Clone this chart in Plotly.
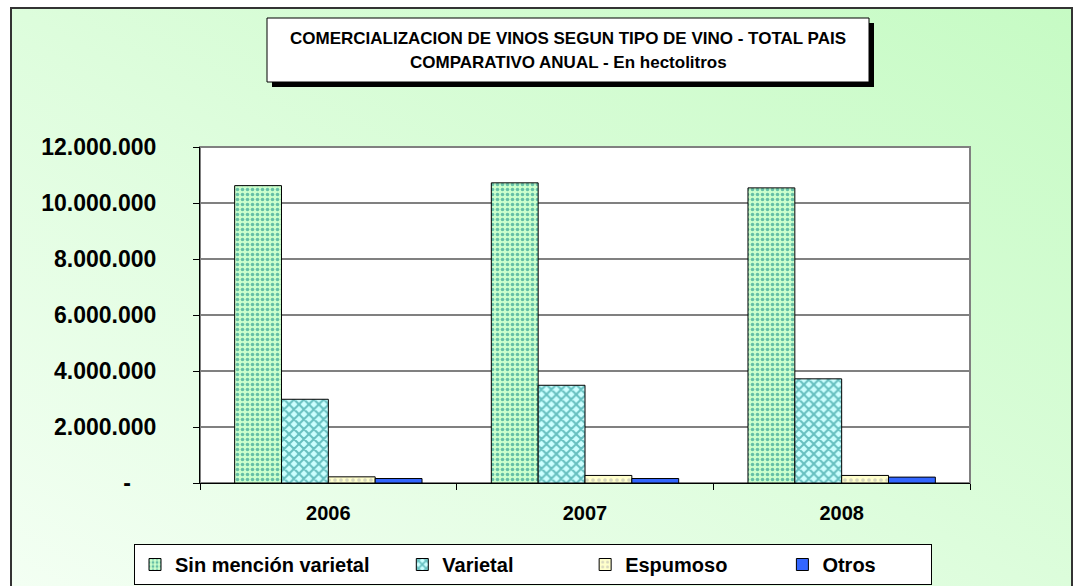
import base64
import plotly.graph_objects as go

# hectolitros por tipo de vino, total pais
years = ["2006", "2007", "2008"]
sin_mencion = [10_620_000, 10_720_000, 10_540_000]
varietal = [2_990_000, 3_490_000, 3_720_000]
espumoso = [220_000, 270_000, 270_000]
otros = [160_000, 160_000, 210_000]

y_ticks = [0, 2_000_000, 4_000_000, 6_000_000, 8_000_000, 10_000_000, 12_000_000]
y_labels = ["-\u00a0\u00a0\u00a0\u00a0", "2.000.000", "4.000.000", "6.000.000",
            "8.000.000", "10.000.000", "12.000.000"]

W, H = 1074, 586
L, R, T, B = 200, 104, 147, 103
PW, PH = W - L - R, H - T - B


def px(x):
    return (x - L) / PW


def py(y):
    return (H - B - y) / PH


FONT = "Arial, Liberation Sans, sans-serif"
NB = "\u00a0"

# green gradient background with the outer frame (excel chart area)
svg = f"""<svg xmlns='http://www.w3.org/2000/svg' width='{W}' height='{H}' viewBox='0 0 {W} {H}' preserveAspectRatio='none'>
<defs><linearGradient id='g' x1='1' y1='0' x2='0' y2='1'>
<stop offset='0' stop-color='#c6fbc4'/><stop offset='1' stop-color='#f4fff4'/></linearGradient></defs>
<rect x='0' y='0' width='{W}' height='{H}' fill='white'/>
<rect x='11' y='8' width='1061' height='600' fill='url(#g)' stroke='#333333' stroke-width='2'/>
</svg>"""
bg_src = "data:image/svg+xml;base64," + base64.b64encode(svg.encode()).decode()

fig = go.Figure()
fig.add_trace(go.Bar(x=years, y=sin_mencion, name="Sin mención varietal" + NB * 5,
                     marker=dict(color="#ccffcc", line=dict(color="black", width=1),
                                 pattern=dict(shape=".", fgcolor="#008080", bgcolor="#ccffcc",
                                              size=5, solidity=0.4))))
fig.add_trace(go.Bar(x=years, y=varietal, name="Varietal" + NB * 12,
                     marker=dict(color="#ccffff", line=dict(color="black", width=1),
                                 pattern=dict(shape="x", fgcolor="#008080", bgcolor="#ccffff",
                                              size=7, solidity=0.5))))
fig.add_trace(go.Bar(x=years, y=espumoso, name="Espumoso" + NB * 9,
                     marker=dict(color="#ffffcc", line=dict(color="black", width=1),
                                 pattern=dict(shape=".", fgcolor="#b0b0b0", bgcolor="#ffffcc",
                                              size=6, solidity=0.3))))
fig.add_trace(go.Bar(x=years, y=otros, name="Otros" + NB * 9,
                     marker=dict(color="#3366ff", line=dict(color="black", width=1))))

fig.update_layout(
    width=W, height=H,
    margin=dict(l=L, r=R, t=T, b=B, autoexpand=False),
    paper_bgcolor="white",
    plot_bgcolor="white",
    barmode="group",
    bargap=0.27,
    bargroupgap=0,
    font=dict(family=FONT, color="black"),
    showlegend=True,
    legend=dict(orientation="h", x=px(134), xanchor="left", y=py(544), yanchor="top",
                bgcolor="white", bordercolor="black", borderwidth=1,
                font=dict(size=20, weight="bold"), traceorder="normal"),
    images=[dict(source=bg_src, xref="paper", yref="paper", x=px(0), y=py(0),
                 sizex=W / PW, sizey=H / PH, xanchor="left", yanchor="top",
                 sizing="stretch", layer="below")],
    shapes=[
        # plot area
        dict(type="rect", xref="paper", yref="paper", x0=0, x1=1, y0=0, y1=1,
             fillcolor="white", line=dict(color="#808080", width=2), layer="below"),
        # title box shadow and box
        dict(type="rect", xref="paper", yref="paper", x0=px(272), x1=px(874), y0=py(87), y1=py(23),
             fillcolor="black", line=dict(width=0), layer="below"),
        dict(type="rect", xref="paper", yref="paper", x0=px(267), x1=px(869), y0=py(82), y1=py(18),
             fillcolor="white", line=dict(color="black", width=1), layer="below"),
    ],
    annotations=[
        dict(text="COMERCIALIZACION DE VINOS SEGUN TIPO DE VINO - TOTAL PAIS",
             xref="paper", yref="paper", x=px(568), y=py(38), yanchor="middle", showarrow=False,
             font=dict(size=17, weight="bold")),
        dict(text="COMPARATIVO ANUAL - En hectolitros",
             xref="paper", yref="paper", x=px(568), y=py(62), yanchor="middle", showarrow=False,
             font=dict(size=17, weight="bold")),
    ],
)

fig.update_xaxes(showline=True, linecolor="black", linewidth=1,
                 ticks="outside", tickson="boundaries", ticklen=6, tickcolor="black",
                 ticklabelstandoff=12,
                 tickfont=dict(size=20, weight="bold"), showgrid=False)
fig.update_yaxes(range=[0, 12_000_000], tickvals=y_ticks, ticktext=y_labels,
                 showline=True, linecolor="black", linewidth=1,
                 ticks="outside", ticklen=6, tickcolor="black", ticklabelstandoff=32,
                 tickfont=dict(size=23, weight="bold"),
                 showgrid=True, gridcolor="#808080", gridwidth=1.5, zeroline=False)

fig.write_html("out.html", config={"displayModeBar": False},
               post_script="document.body.style.margin='0';")
